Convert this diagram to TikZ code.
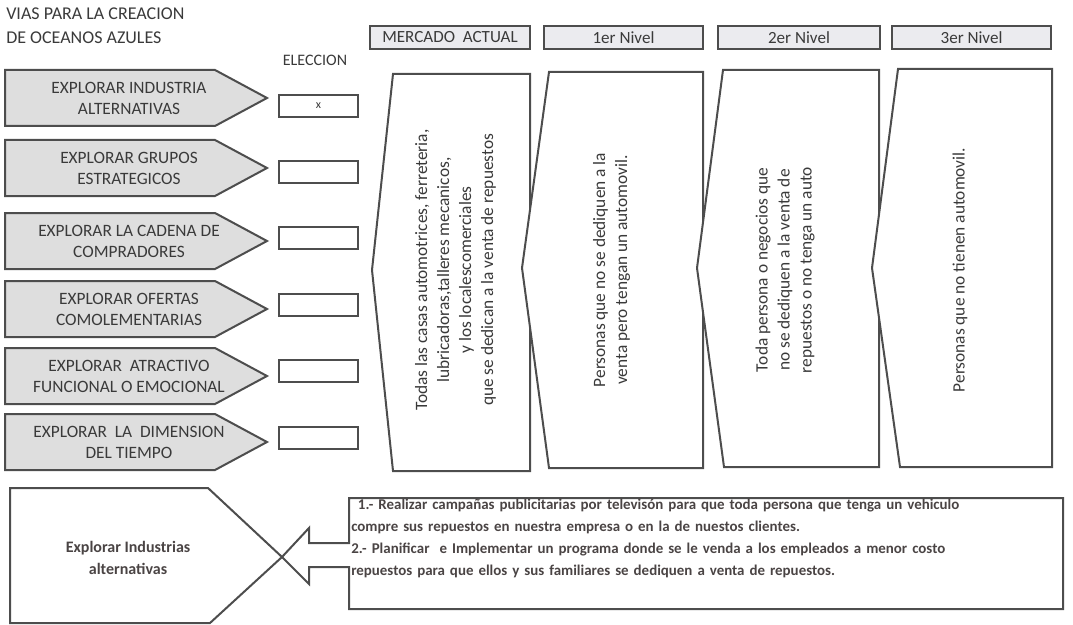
\documentclass[tikz,border=0pt]{standalone}
\usepackage{fontspec}
\setmainfont{Carlito}
\definecolor{edge}{HTML}{4D4D4D}
\definecolor{arrowfill}{HTML}{DEDEDE}
\definecolor{headfill}{HTML}{EBEBEF}
\definecolor{ink}{HTML}{3A3A3A}
\definecolor{boldink}{HTML}{4A4444}
\begin{document}
\begin{tikzpicture}[x=0.75pt,y=-0.75pt,
  wayshape/.style={draw=edge, line width=1.5pt, fill=arrowfill, line join=miter},
  waytext/.style={align=center, text=ink, font=\fontsize{13}{15.8}\selectfont, inner sep=0pt},
  choicebox/.style={draw=edge, line width=0.9pt, fill=white, minimum width=59.25pt, minimum height=16.5pt, inner sep=0pt, outer sep=0pt, text=ink, font=\fontsize{10}{12}\selectfont},
  headbox/.style={draw=edge, line width=1.1pt, fill=headfill, minimum height=17.25pt, inner sep=0pt, outer sep=0pt, text=ink, font=\fontsize{12.8}{14}\selectfont},
  panelshape/.style={draw=edge, line width=1.5pt, fill=white, line join=miter},
  paneltext/.style={align=center, rotate=90, text=ink, font=\fontsize{13}{16.5}\selectfont, inner sep=0pt},
  plain/.style={align=left, text=ink, inner sep=0pt, font=\fontsize{13.5}{18}\selectfont}
]
\useasboundingbox (0,0) rectangle (1073,624);

% title and column label
\node[plain, anchor=north west] (title) at (6,8) {VIAS PARA LA CREACION\\DE OCEANOS AZULES};
\node[plain, anchor=center, font=\fontsize{12}{14}\selectfont] (eleccion) at (315,60) {ELECCION};

% strategy arrows with their choice boxes
\foreach \name/\cy/\by/\txt in {
  a1/98/106/{EXPLORAR INDUSTRIA\\ALTERNATIVAS},
  a2/168/172/{EXPLORAR GRUPOS\\ESTRATEGICOS},
  a3/241/238/{EXPLORAR LA CADENA DE\\COMPRADORES},
  a4/309/305/{EXPLORAR OFERTAS\\COMOLEMENTARIAS},
  a5/376/371/{EXPLORAR\ \ ATRACTIVO\\FUNCIONAL O EMOCIONAL},
  a6/442/438/{EXPLORAR\ \ LA\ \ DIMENSION\\DEL TIEMPO}} {
  \draw[wayshape] (5,\cy-28) -- (215,\cy-28) -- (267,\cy) -- (215,\cy+28) -- (5,\cy+28) -- cycle;
  \node[waytext] (\name) at (129,\cy) {\txt};
  \node[choicebox] (\name box) at (318.5,\by) {};
}
\node[text=ink, font=\fontsize{9}{10}\selectfont] (mark) at (a1box.center) {x};

% column headers
\node[headbox, minimum width=120pt] (h0) at (450,37.5) {MERCADO\ \ ACTUAL};
\node[headbox, minimum width=119.25pt] (h1) at (623.5,37.5) {1er Nivel};
\node[headbox, minimum width=121.5pt] (h2) at (799,37.5) {2er Nivel};
\node[headbox, minimum width=119.25pt] (h3) at (971.5,37.5) {3er Nivel};

% level panels, each drawn over the previous one
\draw[panelshape] (393,74) -- (530,74) -- (530,471) -- (393,471) -- (372,270) -- cycle;
\draw[panelshape] (549,72) -- (703,72) -- (703,468) -- (549,468) -- (522,268) -- cycle;
\draw[panelshape] (723,70) -- (879,70) -- (879,467) -- (724,467) -- (697,268) -- cycle;
\draw[panelshape] (898,69) -- (1052,69) -- (1052,467) -- (900,467) -- (872,268) -- cycle;

\node[paneltext] (p0) at (455.5,270) {Todas las casas automotrices, ferreteria,\\lubricadoras,talleres mecanicos,\\y los localescomerciales\\que se dedican a la venta de repuestos};
\node[paneltext] (p1) at (611.5,270) {Personas que no se dediquen a la\\venta pero tengan un automovil.};
\node[paneltext] (p2) at (785,270) {Toda persona o negocios que\\no se dediquen a la venta de\\repuestos o no tenga un auto};
\node[paneltext] (p3) at (960,270) {Personas que no tienen automovil.};

% chosen strategy and its actions
\draw[panelshape, fill=none] (10,488) -- (208,488) -- (282,557) -- (210,623) -- (10,623) -- cycle;
\node[align=center, text=boldink, inner sep=0pt, font=\bfseries\fontsize{12}{17}\selectfont] (chosen) at (128,558) {Explorar Industrias\\alternativas};

\draw[panelshape, fill=none] (282,557) -- (309,528) -- (309,543) -- (349,543) -- (349,498)
  -- (1063,498) -- (1063,609) -- (349,609) -- (349,567) -- (309,567) -- (309,584) -- cycle;
\coordinate (tip) at (282,557);
\node[anchor=north west, align=left, text=boldink, inner sep=0pt, text width=540pt,
  font=\bfseries\fontsize{11.2}{16.5}\selectfont] (actions) at (351,499)
  {\hspace*{5pt}1.- Realizar campañas publicitarias por televisón para que toda persona que tenga un vehiculo\\
   compre sus repuestos en nuestra empresa o en la de nuestos clientes.\\
   2.- Planificar\ \ e Implementar un programa donde se le venda a los empleados a menor costo\\
   repuestos para que ellos y sus familiares se dediquen a venta de repuestos.};
\end{tikzpicture}
\end{document}
